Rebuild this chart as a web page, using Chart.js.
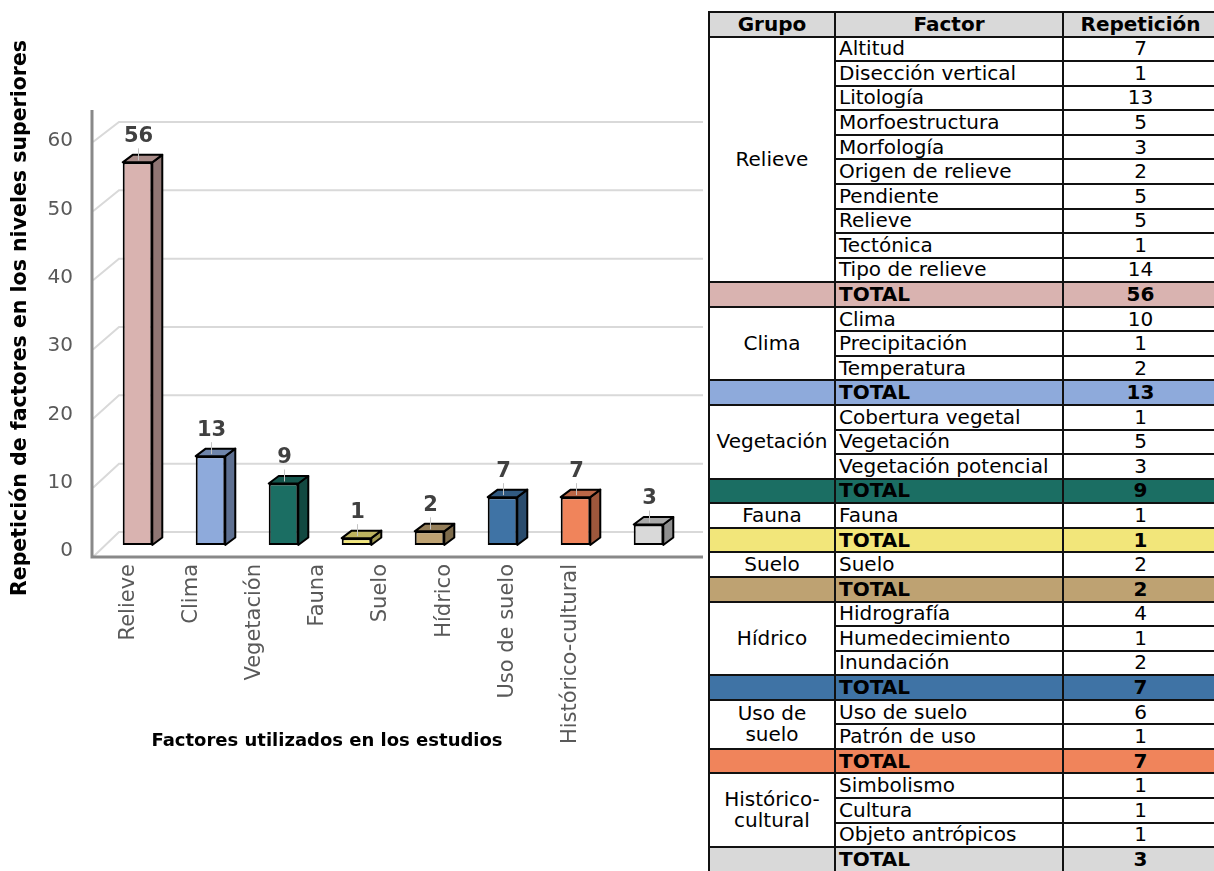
<!DOCTYPE html>
<html>
<head>
<meta charset="utf-8">
<script src="https://cdn.jsdelivr.net/npm/chart.js@4"></script>
<style>
  html, body { margin: 0; padding: 0; background: #fff; overflow: hidden; }
  body { width: 1214px; height: 871px; position: relative; font-family: "DejaVu Sans", Verdana, sans-serif; }
  #chart-box { position: absolute; left: 0; top: 0; width: 705px; height: 871px; }
  #tabla { position: absolute; left: 708px; top: 11px; width: 509px; table-layout: fixed; border-collapse: collapse; font-size: 20px; line-height: 21px; color: #000; }
  #tabla tr { height: 24.57px; }
  #tabla td, #tabla th { border: 2px solid #111; padding: 0 3px; white-space: nowrap; overflow: hidden; }
  #tabla th { background: #d9d9d9; font-weight: bold; text-align: center; }
  #tabla td.grupo { text-align: center; white-space: normal; padding: 0; }
  #tabla td.num { text-align: center; }
  #tabla tr.total td { font-weight: bold; }
</style>
</head>
<body>
<div id="chart-box"><canvas id="grafico" width="705" height="871"></canvas></div>
<table id="tabla">
  <colgroup><col style="width:126px"><col style="width:228px"><col style="width:155px"></colgroup>
  <tbody id="cuerpo"></tbody>
</table>
<script>
// categories and totals shown in the chart
const grupos = ['Relieve', 'Clima', 'Vegetación', 'Fauna', 'Suelo', 'Hídrico', 'Uso de suelo', 'Histórico-cultural'];
const totales = [56, 13, 9, 1, 2, 7, 7, 3];
const yTicks = [0, 10, 20, 30, 40, 50, 60];

// factors of each group (table)
const factores = [
  ['Altitud', 'Disección vertical', 'Litología', 'Morfoestructura', 'Morfología', 'Origen de relieve', 'Pendiente', 'Relieve', 'Tectónica', 'Tipo de relieve'],
  ['Clima', 'Precipitación', 'Temperatura'],
  ['Cobertura vegetal', 'Vegetación', 'Vegetación potencial'],
  ['Fauna'],
  ['Suelo'],
  ['Hidrografía', 'Humedecimiento', 'Inundación'],
  ['Uso de suelo', 'Patrón de uso'],
  ['Simbolismo', 'Cultura', 'Objeto antrópicos']
];
const repeticiones = [
  [7, 1, 13, 5, 3, 2, 5, 5, 1, 14],
  [10, 1, 2],
  [1, 5, 3],
  [1],
  [2],
  [4, 1, 2],
  [6, 1],
  [1, 1, 1]
];

const colores = ['#d9b3b0', '#8eaadb', '#1b6e63', '#f2e67a', '#bea272', '#3f73a5', '#f0845b', '#d9d9d9'];

// build the table
let html = '<tr><th>Grupo</th><th>Factor</th><th>Repetición</th></tr>';
grupos.forEach((g, i) => {
  factores[i].forEach((f, j) => {
    html += '<tr>';
    if (j === 0) html += `<td class="grupo" rowspan="${factores[i].length}">${g}</td>`;
    html += `<td>${f}</td><td class="num">${repeticiones[i][j]}</td></tr>`;
  });
  html += `<tr class="total" style="background:${colores[i]}"><td></td><td>TOTAL</td><td class="num">${totales[i]}</td></tr>`;
});
document.getElementById('cuerpo').innerHTML = html;

function shade(hex, k) {
  const n = parseInt(hex.slice(1), 16);
  const r = Math.round(((n >> 16) & 255) * k);
  const g = Math.round(((n >> 8) & 255) * k);
  const b = Math.round((n & 255) * k);
  return `rgb(${r},${g},${b})`;
}

const DX = 10, DY = 7.5; // bar depth

// back wall grid, side diagonals, axis lines, 3d faces and texts
const fondo = {
  id: 'fondo',
  beforeDatasetsDraw(chart) {
    const ctx = chart.ctx;
    const y = chart.scales.y;
    ctx.save();
    ctx.strokeStyle = '#d9d9d9';
    ctx.lineWidth = 2;
    yTicks.forEach(v => {
      const py = y.getPixelForValue(v);
      const back = py - 13;
      const front = py + 12 - 5 * v / 60;
      ctx.beginPath();
      ctx.moveTo(93, front);
      ctx.lineTo(119, back);
      ctx.lineTo(703, back);
      ctx.stroke();
    });
    ctx.strokeStyle = '#898989';
    ctx.lineWidth = 3;
    ctx.beginPath();
    ctx.moveTo(92, 110);
    ctx.lineTo(92, 557);
    ctx.lineTo(703, 557);
    ctx.stroke();
    ctx.restore();
  },
  afterDatasetsDraw(chart) {
    const ctx = chart.ctx;
    const meta = chart.getDatasetMeta(0);
    ctx.save();
    ctx.lineJoin = 'round';
    meta.data.forEach((bar, i) => {
      const p = bar.getProps(['x', 'y', 'base', 'width'], true);
      const l = p.x - p.width / 2, r = p.x + p.width / 2;
      ctx.strokeStyle = '#000';
      ctx.lineWidth = 2;
      // side
      ctx.fillStyle = shade(colores[i], 0.66);
      ctx.beginPath();
      ctx.moveTo(r, p.y);
      ctx.lineTo(r + DX, p.y - DY);
      ctx.lineTo(r + DX, p.base - DY);
      ctx.lineTo(r, p.base);
      ctx.closePath();
      ctx.fill();
      ctx.stroke();
      // top
      ctx.fillStyle = shade(colores[i], 0.78);
      ctx.beginPath();
      ctx.moveTo(l, p.y);
      ctx.lineTo(l + DX, p.y - DY);
      ctx.lineTo(r + DX, p.y - DY);
      ctx.lineTo(r, p.y);
      ctx.closePath();
      ctx.fill();
      ctx.stroke();
      // leader line and value
      ctx.strokeStyle = '#c4c4c4';
      ctx.lineWidth = 1;
      ctx.beginPath();
      ctx.moveTo(p.x + 1, p.y - 14);
      ctx.lineTo(p.x + 1, p.y - 2);
      ctx.stroke();
      ctx.fillStyle = '#404040';
      ctx.font = 'bold 21px "DejaVu Sans"';
      ctx.textAlign = 'center';
      ctx.textBaseline = 'middle';
      ctx.fillText(totales[i], p.x + 1, p.y - 26);
    });
    ctx.restore();
  },
  afterDraw(chart) {
    const ctx = chart.ctx;
    const x = chart.scales.x;
    ctx.save();
    // category labels, rotated, on the front edge of the floor
    ctx.fillStyle = '#595959';
    ctx.font = '21px "DejaVu Sans"';
    ctx.textAlign = 'right';
    ctx.textBaseline = 'middle';
    grupos.forEach((g, i) => {
      const lx = 9 + 0.866 * x.getPixelForValue(i);
      ctx.save();
      ctx.translate(lx, 564);
      ctx.rotate(-Math.PI / 2);
      ctx.fillText(g, 0, 0);
      ctx.restore();
    });
    // axis titles
    ctx.fillStyle = '#000';
    ctx.font = 'bold 18px "DejaVu Sans"';
    ctx.textAlign = 'center';
    ctx.fillText('Factores utilizados en los estudios', 327, 741);
    ctx.font = 'bold 20.5px "DejaVu Sans"';
    ctx.translate(21, 318);
    ctx.rotate(-Math.PI / 2);
    ctx.fillText('Repetición de factores en los niveles superiores', 0, 0);
    ctx.restore();
  }
};

new Chart(document.getElementById('grafico'), {
  type: 'bar',
  data: {
    labels: grupos,
    datasets: [{
      data: totales,
      backgroundColor: colores,
      borderColor: '#000',
      borderWidth: 2,
      borderSkipped: false,
      barPercentage: 0.405,
      categoryPercentage: 1
    }]
  },
  options: {
    responsive: false,
    animation: false,
    layout: { padding: { top: 135, right: 20, left: 0, bottom: 0 } },
    plugins: { legend: { display: false }, tooltip: { enabled: false } },
    scales: {
      x: {
        grid: { display: false, drawTicks: false },
        border: { display: false },
        ticks: { display: false },
        afterFit: s => { s.height = 326; }
      },
      y: {
        min: 0,
        max: 60,
        grid: { display: false, drawTicks: false },
        border: { display: false },
        ticks: {
          stepSize: 10,
          padding: 28,
          labelOffset: 6,
          color: '#595959',
          font: { family: 'DejaVu Sans', size: 20 }
        },
        afterFit: s => { s.width = 101; }
      }
    }
  },
  plugins: [fondo]
});
</script>
</body>
</html>
